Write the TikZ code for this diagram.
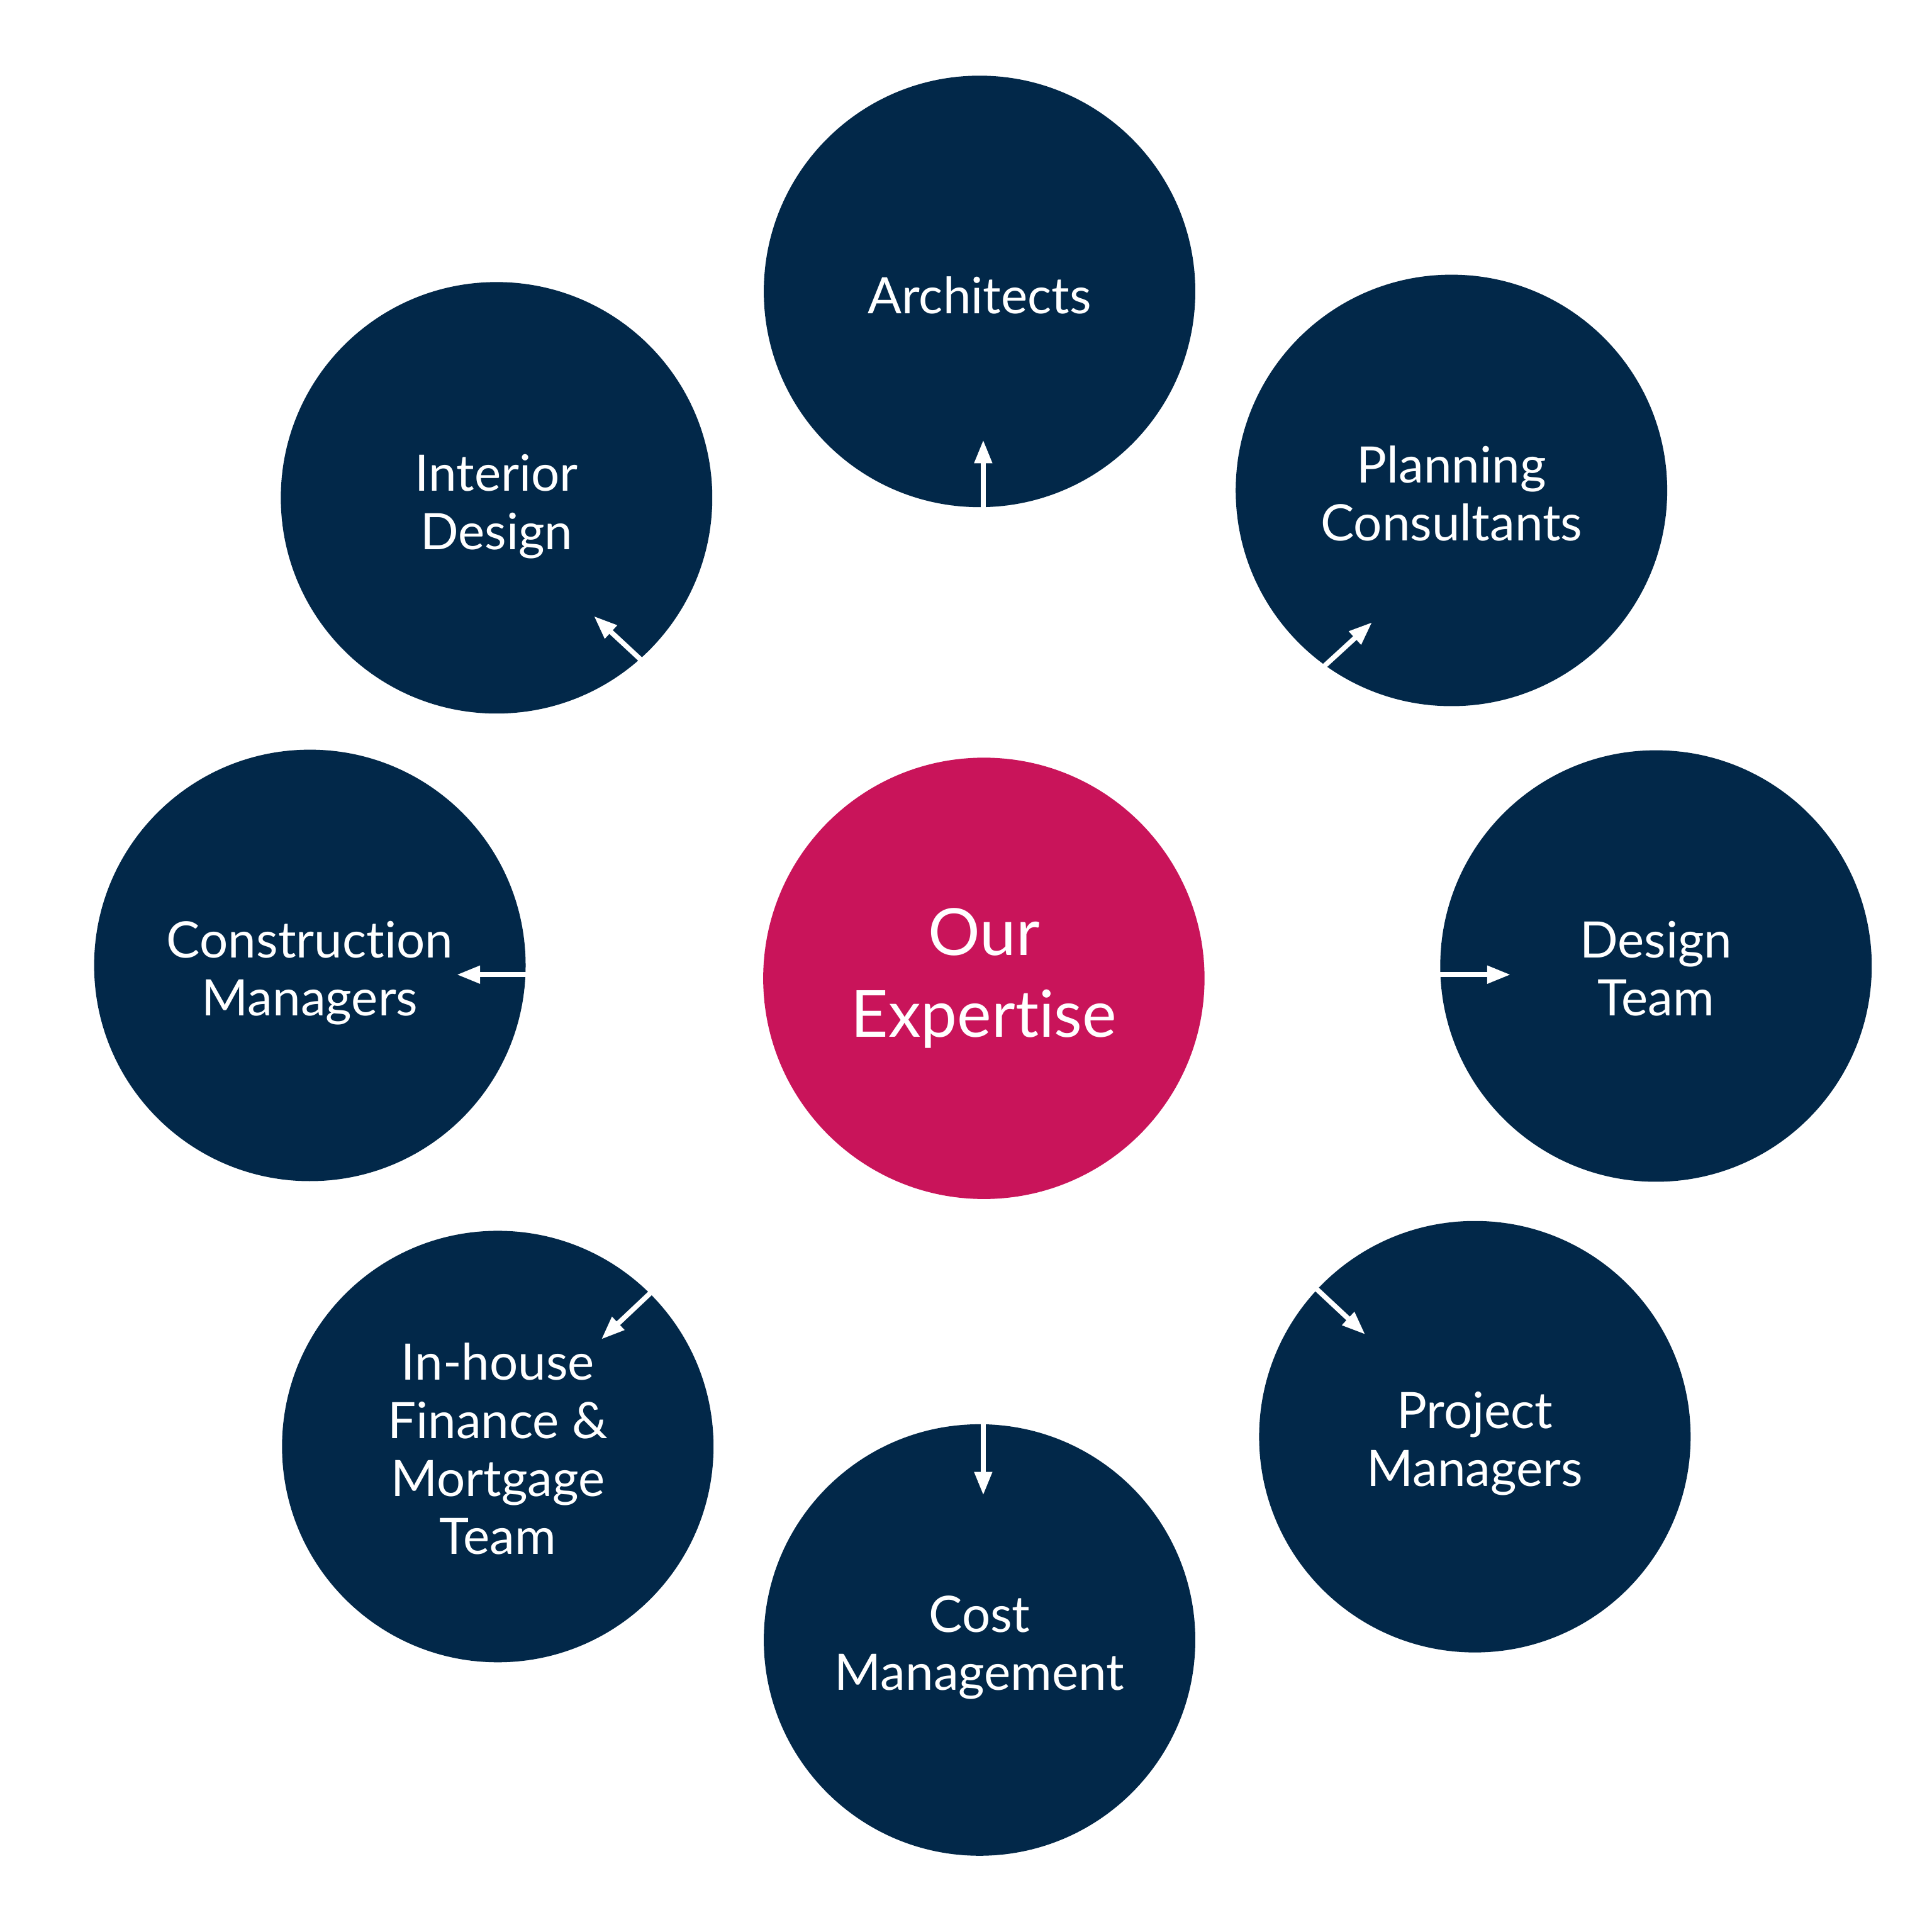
\documentclass[tikz,border=0pt]{standalone}
\usepackage{fontspec}
\setmainfont{Lato}[Ligatures=NoCommon]
\usetikzlibrary{arrows.meta}
\definecolor{navy}{RGB}{2,40,73}
\definecolor{magen}{RGB}{201,20,90}
\begin{document}
\begin{tikzpicture}[x=0.01cm,y=-0.01cm,
  outer/.style={circle,fill=navy,minimum size=3.5cm,inner sep=0pt},
  lab/.style={text=white,align=center,inner sep=0pt,font=\fontsize{11.6}{13.4}\selectfont},
  hub/.style={circle,fill=magen,minimum size=3.58cm,inner sep=0pt,text=white,align=center,
    font=\fontsize{15}{18.8}\selectfont},
  arr/.style={draw=white,line width=1.16pt,-{Triangle[length=5.4pt,width=3.9pt]}}]
\useasboundingbox (0,0) rectangle (1568,1568);
\node[hub] (c) at (798.5,794) {Our\\Expertise};
\node[outer,label={[lab,yshift=-0.03cm]center:Architects}] (arch) at (795,236.5) {};
\node[outer,label={[lab,yshift=-0.025cm]center:Planning\\Consultants}] (plan) at (1178,398) {};
\node[outer,label={[lab,yshift=-0.02cm]center:Design\\Team}] (des) at (1344,784) {};
\node[outer,label={[lab,yshift=-0.055cm]center:Project\\Managers}] (pm) at (1197,1166) {};
\node[outer,label={[lab,yshift=-0.06cm]center:Cost\\Management}] (cost) at (795,1331) {};
\node[outer,label={[lab,yshift=-0.02cm]center:In-house\\Finance \&\\Mortgage\\Team}] (fin) at (404,1174) {};
\node[outer,label={[lab,yshift=-0.06cm]center:Construction\\Managers}] (con) at (251.5,783.5) {};
\node[outer,label={[lab,yshift=-0.07cm]center:Interior\\Design}] (int) at (403,404) {};
\coordinate (tarch) at (798,357);
\coordinate (tplan) at (1113.6,505);
\coordinate (tdes) at (1226,791);
\coordinate (tpm) at (1108,1083);
\coordinate (tcost) at (798,1213.5);
\coordinate (tfin) at (488,1087);
\coordinate (tcon) at (370.7,791);
\coordinate (tint) at (482,500);
\draw[arr] (c.north -| tarch) -- (tarch);
\draw[arr] (c.south -| tcost) -- (tcost);
\draw[arr] (c.east |- tdes) -- (tdes);
\draw[arr] (c.west |- tcon) -- (tcon);
\foreach \t in {plan,pm,fin,int}
  \draw[arr] (c) -- (t\t);
\end{tikzpicture}
\end{document}
